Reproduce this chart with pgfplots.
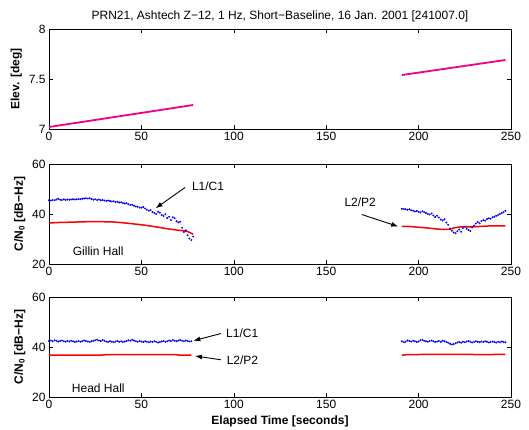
\documentclass[border=0pt]{standalone}
\usepackage{pgfplots}
\pgfplotsset{compat=1.18}
\usepackage{fontspec}
\setmainfont{Liberation Sans}
\usetikzlibrary{arrows.meta}
\pgfplotsset{panel/.style={scale only axis, width=462pt, height=100pt,
  xmin=0, xmax=250, xtick={0,50,...,250},
  tick align=inside, major tick length=4pt,
  axis line style={line width=0.9pt},
  every tick/.style={black, line width=0.6pt},
  tick label style={font=\fontsize{12}{13}\selectfont},
  /pgf/number format/assume math mode=true,
  label style={font=\fontsize{12}{13}\selectfont\bfseries},
  clip=false}}
\tikzset{ann/.style={-{Latex[length=7pt,width=5pt]}, line width=0.9pt, black},
  lab/.style={font=\fontsize{12}{13}\selectfont, anchor=west}}
\begin{document}
\begin{tikzpicture}
\path[use as bounding box] (-49pt,-429pt) rectangle (480pt,0pt);
% ---------- top panel ----------
\begin{axis}[panel, at={(0pt,-129pt)}, anchor=south west,
  ymin=7, ymax=8, ytick={7,7.5,8},
  ylabel={Elev. [deg]},
  title={PRN21, Ashtech Z−12, 1 Hz, Short−Baseline, 16 Jan. 2001 [241007.0]},
  title style={font=\fontsize{12}{13}\selectfont, yshift=-3pt}]
\addplot[magenta, line width=1.8pt] coordinates {(0,7.02) (78,7.24)};
\addplot[magenta, line width=1.8pt] coordinates {(191,7.54) (247,7.69)};
\end{axis}
% ---------- middle panel ----------
\begin{axis}[panel, at={(0pt,-264pt)}, anchor=south west,
  ymin=20, ymax=60, ytick={20,40,60},
  ylabel={C/N$_{\mathbf{0}}$ [dB−Hz]}]
\addplot[blue, only marks, mark=*, mark size=0.75pt] table[row sep=\\, header=false, x expr=\coordindex, y index=0] {
45.5\\45.4\\45.6\\45.5\\45.8\\46.1\\45.7\\45.6\\45.9\\45.6\\
45.8\\45.7\\45.8\\45.9\\45.8\\45.9\\46.0\\45.9\\46.1\\46.2\\
46.3\\46.2\\46.3\\46.0\\45.7\\45.9\\45.6\\45.8\\45.5\\45.6\\
45.4\\45.3\\45.4\\45.2\\45.0\\45.1\\44.8\\44.9\\44.6\\44.7\\
44.4\\44.2\\44.3\\43.9\\43.6\\43.7\\43.3\\43.0\\42.9\\42.6\\
42.5\\42.8\\42.2\\41.7\\41.3\\41.6\\40.8\\40.4\\40.0\\40.9\\
40.5\\39.6\\39.2\\39.9\\38.4\\38.9\\37.6\\38.7\\38.3\\37.1\\
36.6\\36.9\\34.5\\32.8\\33.5\\31.5\\30.2\\29.6\\31.0\\
};
\addplot[blue, only marks, mark=*, mark size=0.75pt] table[row sep=\\, header=false, x expr=\coordindex+191, y index=0] {
42.1\\42.0\\41.9\\41.7\\41.9\\41.5\\41.3\\41.0\\41.2\\40.9\\
40.6\\41.1\\40.8\\40.4\\40.0\\39.8\\40.2\\39.4\\38.8\\39.3\\
38.6\\37.8\\37.4\\37.9\\36.6\\35.7\\34.2\\33.3\\32.6\\32.3\\
33.1\\33.8\\32.9\\34.4\\35.0\\34.1\\33.6\\33.2\\34.6\\35.4\\
36.2\\36.8\\36.3\\37.2\\37.6\\37.3\\38.0\\38.3\\38.1\\38.7\\
38.9\\39.3\\39.6\\40.0\\40.4\\40.8\\41.3\\
};
\addplot[red, line width=1.5pt] coordinates {(0,36.4) (5,36.6) (10,36.7) (15,36.8) (20,36.9) (25,37.0) (30,36.9) (35,36.8) (40,36.5) (45,36.1) (50,35.7) (55,35.2) (60,34.6) (65,34.0) (70,33.5) (73,33.3) (75,33.0) (77,32.3) (78,31.9)};
\addplot[red, line width=1.5pt] coordinates {(191,35.1) (195,35.0) (200,34.7) (205,34.4) (210,34.0) (214,33.8) (217,33.9) (219,34.4) (222,34.8) (226,34.9) (230,34.9) (235,35.1) (240,35.3) (247,35.3)};
\draw[ann] (axis cs:73.6,50.6) -- (axis cs:57.7,42.3);
\node[lab] at (axis cs:75.5,51) {L1/C1};
\draw[ann] (axis cs:169.2,39.8) -- (axis cs:189,35.0);
\node[lab] at (axis cs:158,44.7) {L2/P2};
\node[lab] at (axis cs:11,25) {Gillin Hall};
\end{axis}
% ---------- bottom panel ----------
\begin{axis}[panel, at={(0pt,-397pt)}, anchor=south west,
  ymin=20, ymax=60, ytick={20,40,60},
  ylabel={C/N$_{\mathbf{0}}$ [dB−Hz]},
  xlabel={Elapsed Time [seconds]}]
\addplot[blue, only marks, mark=*, mark size=0.75pt] table[row sep=\\, header=false, x expr=\coordindex, y index=0] {
42.4\\42.6\\42.3\\42.7\\42.5\\42.2\\42.4\\42.6\\42.3\\42.1\\
42.4\\42.2\\42.5\\42.3\\42.0\\42.2\\42.4\\42.1\\42.3\\42.6\\
42.4\\42.2\\42.0\\42.3\\42.5\\42.7\\42.9\\42.6\\42.4\\42.8\\
42.5\\42.2\\42.0\\42.3\\42.1\\41.9\\42.2\\42.4\\42.1\\42.3\\
42.0\\42.2\\42.4\\42.7\\42.5\\42.9\\42.6\\42.3\\42.1\\42.4\\
42.2\\42.0\\42.3\\42.1\\41.9\\42.2\\42.0\\42.3\\42.1\\41.8\\
42.0\\42.2\\42.4\\42.1\\42.3\\42.6\\42.4\\42.8\\42.5\\42.3\\
42.6\\42.8\\42.5\\42.3\\42.6\\42.4\\42.2\\42.3\\
};
\addplot[blue, only marks, mark=*, mark size=0.75pt] table[row sep=\\, header=false, x expr=\coordindex+191, y index=0] {
42.3\\41.9\\42.1\\42.6\\42.4\\42.2\\42.5\\42.3\\42.0\\42.2\\
42.7\\42.9\\42.5\\42.3\\42.1\\42.4\\42.6\\42.3\\42.0\\42.2\\
42.4\\42.1\\42.5\\42.3\\42.0\\41.7\\41.3\\41.0\\41.2\\41.5\\
41.8\\42.0\\41.7\\42.1\\41.9\\42.2\\42.4\\42.1\\41.8\\42.0\\
42.3\\42.1\\41.9\\42.2\\42.0\\42.3\\42.1\\41.8\\42.0\\42.2\\
42.0\\41.8\\42.1\\41.9\\42.2\\42.0\\41.9\\
};
\addplot[red, line width=1.5pt] coordinates {(0,36.8) (10,36.8) (20,36.8) (29,36.8) (30,36.9) (40,37.0) (50,37.0) (60,37.0) (68,37.0) (70,36.8) (77,36.8)};
\addplot[red, line width=1.5pt] coordinates {(191,36.7) (193,36.9) (200,37.0) (210,37.1) (220,37.1) (230,37.0) (240,37.0) (247,37.1)};
\draw[ann] (axis cs:93,45.4) -- (axis cs:78.1,42.5);
\node[lab] at (axis cs:94,45.7) {L1/C1};
\draw[ann] (axis cs:93,34.9) -- (axis cs:79,36.4);
\node[lab] at (axis cs:94.3,34.6) {L2/P2};
\node[lab] at (axis cs:10.5,23.5) {Head Hall};
\end{axis}
\end{tikzpicture}
\end{document}
